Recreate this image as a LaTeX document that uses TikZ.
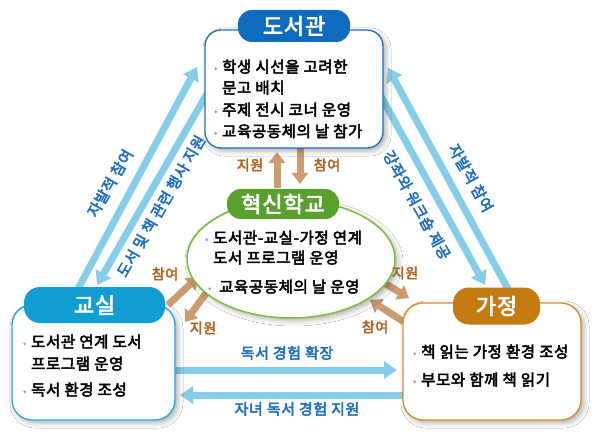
\documentclass[tikz,border=0pt]{standalone}
\usepackage{fontspec}
\setmainfont{Noto Sans CJK KR}[FakeBold=3.2, LetterSpace=4]
\usetikzlibrary{arrows.meta,shapes.geometric,shadows.blur}
\definecolor{libblue}{HTML}{0E6BBE}
\definecolor{libline}{HTML}{1F70C1}
\definecolor{clsblue}{HTML}{109ED2}
\definecolor{clsline}{HTML}{2BA6D9}
\definecolor{homeor}{HTML}{C67A12}
\definecolor{homeline}{HTML}{D38E2C}
\definecolor{schgreen}{HTML}{5AA02E}
\definecolor{schline}{HTML}{7BBD3E}
\definecolor{skyarrow}{HTML}{86CDE9}
\definecolor{tanarrow}{HTML}{CB9B72}
\definecolor{lblblue}{HTML}{1E6EC4}
\definecolor{lblbrown}{HTML}{B4621F}
\definecolor{bulgray}{HTML}{9A9A9A}
\newcommand{\mybul}{\makebox[8pt][l]{\raisebox{1pt}{\textcolor{bulgray}{\fontsize{9}{9}\selectfont •}}}}
\begin{document}
\begin{tikzpicture}[x=1pt,y=-1pt,
  softshadow/.style={blur shadow={shadow xshift=3pt,shadow yshift=-3pt,shadow blur radius=5pt,shadow opacity=30}},
  box/.style={draw, line width=1.3pt, fill=white, rounded corners=16pt, inner sep=0pt, softshadow},
  pill/.style={inner sep=0pt, text=white, font=\fontsize{22}{22}\selectfont},
  itm/.style={anchor=base west, inner sep=0pt, font=\fontsize{15.5}{15.5}\selectfont},
  skyarr/.style={draw=skyarrow, line width=7pt, -{Triangle[width=17pt,length=13pt]}},
  tanarr/.style={draw=tanarrow, line width=7pt, -{Triangle[width=16pt,length=11pt]}},
  bluelbl/.style={text=lblblue, inner sep=0pt, font=\fontsize{15}{15}\selectfont},
  brownlbl/.style={text=lblbrown, inner sep=0pt, font=\fontsize{14}{14}\selectfont}
]
\useasboundingbox (0,0) rectangle (595,441);
\fill[white] (0,0) rectangle (595,441);

% arrow end points
\coordinate (a1s) at (72,300);  \coordinate (a1e) at (197,67);
\coordinate (a2s) at (208,92);  \coordinate (a2e) at (97,285);
\coordinate (a3s) at (378,91);  \coordinate (a3e) at (485,285);
\coordinate (a4s) at (514,300); \coordinate (a4e) at (388,68);
\coordinate (a5s) at (168,370); \coordinate (a5e) at (397,370);
\coordinate (a6s) at (410,395); \coordinate (a6e) at (180,395);
\coordinate (b1s) at (277,188); \coordinate (b1e) at (277,152);
\coordinate (b2s) at (300,145); \coordinate (b2e) at (300,184);
\coordinate (b3s) at (168,305); \coordinate (b3e) at (198,277);
\coordinate (b4s) at (207,292); \coordinate (b4e) at (185,322);
\coordinate (b5s) at (381,281); \coordinate (b5e) at (409,298);
\coordinate (b6s) at (404,322); \coordinate (b6e) at (370,300);

% blue arrows
\draw[skyarr] (a1s) -- (a1e);
\draw[skyarr] (a2s) -- (a2e);
\draw[skyarr] (a3s) -- (a3e);
\draw[skyarr] (a4s) -- (a4e);
\draw[skyarr] (a5s) -- (a5e);
\draw[skyarr] (a6s) -- (a6e);
% brown arrows
\draw[tanarr] (b1s) -- (b1e);
\draw[tanarr] (b2s) -- (b2e);
\draw[tanarr] (b3s) -- (b3e);
\draw[tanarr] (b4s) -- (b4e);
\draw[tanarr] (b5s) -- (b5e);
\draw[tanarr] (b6s) -- (b6e);

% library
\node[box, draw=libline, minimum width=178pt, minimum height=118pt] (lib) at (294,89) {};
\node[pill, fill=libblue, rounded corners=14pt, minimum width=112pt, minimum height=32pt] (libh) at (294,26) {도서관};
\node[itm] (lib1) at (214,72.5) {\mybul 학생 시선을 고려한};
\node[itm] (lib2) at (222,93.5) {문고 배치};
\node[itm] (lib3) at (214,115.5) {\mybul 주제 전시 코너 운영};
\node[itm] (lib4) at (214,137) {\mybul 교육공동체의 날 참가};

% classroom
\node[box, draw=clsline, rounded corners=20pt, minimum width=163pt, minimum height=115pt] (cls) at (93.5,362.5) {};
\node[pill, fill=clsblue, rounded corners=16pt, minimum width=141pt, minimum height=36pt] (clsh) at (94.5,305) {교실};
\node[itm] (cls1) at (23,347.5) {\mybul 도서관 연계 도서};
\node[itm] (cls2) at (31,369.5) {프로그램 운영};
\node[itm] (cls3) at (23,395.5) {\mybul 독서 환경 조성};

% home
\node[box, draw=homeline, rounded corners=20pt, minimum width=178pt, minimum height=117pt] (home) at (492,361.5) {};
\node[pill, fill=homeor, rounded corners=16pt, minimum width=87pt, minimum height=37pt] (homeh) at (496.5,306) {가정};
\node[itm] (home1) at (413,357.5) {\mybul 책 읽는 가정 환경 조성};
\node[itm] (home2) at (413,385.5) {\mybul 부모와 함께 책 읽기};

% innovation school
\node[ellipse, draw=schline, line width=1.5pt, fill=white, inner sep=0pt, minimum width=208pt, minimum height=118pt, softshadow] (sch) at (291,259) {};
\node[pill, fill=schgreen, rounded corners=14pt, minimum width=112pt, minimum height=30pt] (schh) at (283,204) {혁신학교};
\node[itm] (sch1) at (205,243.5) {\mybul 도서관-교실-가정 연계};
\node[itm] (sch2) at (213,263.5) {도서 프로그램 운영};
\node[itm] (sch3) at (208,292.5) {\mybul\hspace{3pt}교육공동체의 날 운영};

% blue labels
\node[bluelbl, rotate=60] (l1) at (110,183) {자발적 참여};
\node[bluelbl, rotate=60] (l2) at (161,206) {도서 및 책 관련 행사 지원};
\node[bluelbl, rotate=-61] (l3) at (417,205) {강좌와 워크숍 제공};
\node[bluelbl, rotate=-61] (l4) at (471,178) {자발적 참여};
\node[bluelbl] (l5) at (287,353) {독서 경험 확장};
\node[bluelbl] (l6) at (297,409) {자녀 독서 경험 지원};

% brown labels
\node[brownlbl] (m1) at (250,165) {지원};
\node[brownlbl] (m2) at (327,165) {참여};
\node[brownlbl] (m3) at (165,274) {참여};
\node[brownlbl] (m4) at (203,328) {지원};
\node[brownlbl] (m5) at (405,273) {지원};
\node[brownlbl] (m6) at (375,327) {참여};
\end{tikzpicture}
\end{document}
